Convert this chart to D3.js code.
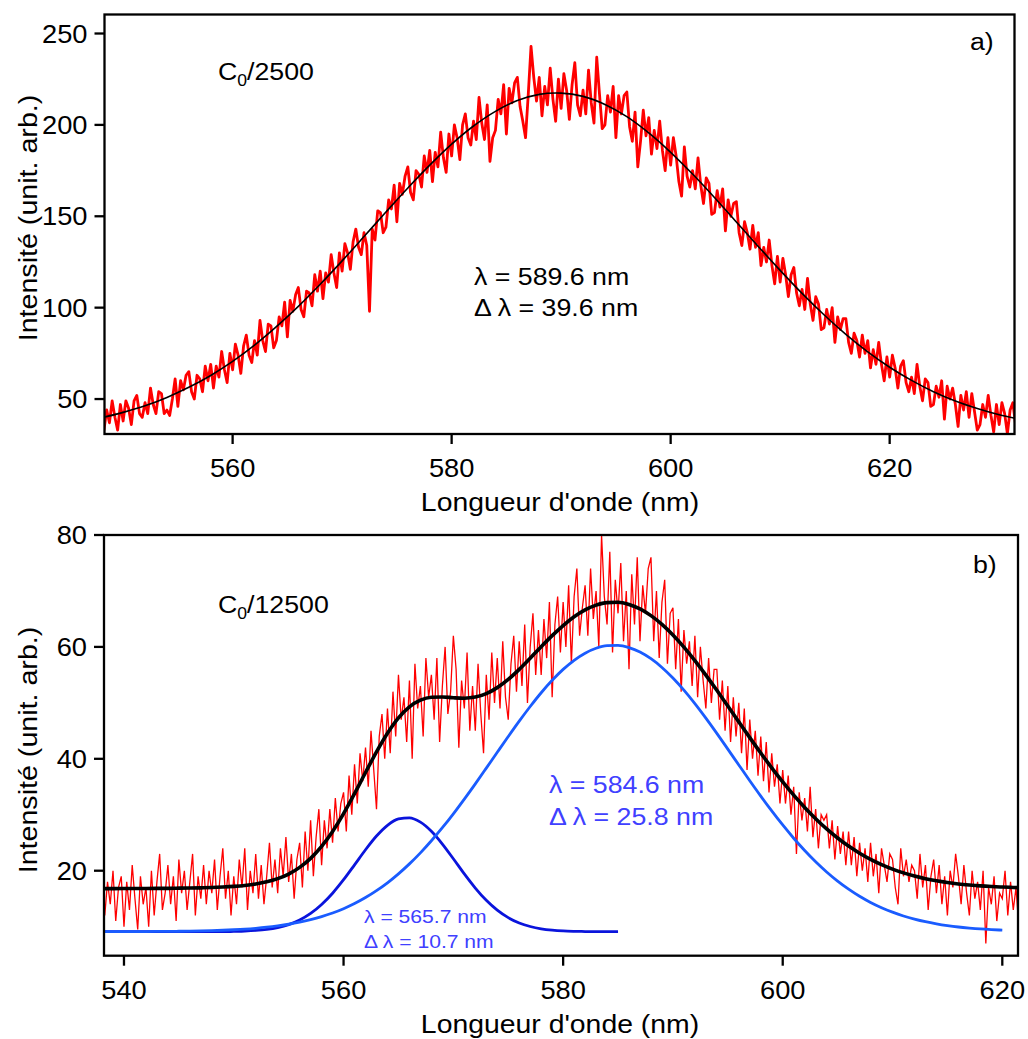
<!DOCTYPE html>
<html><head><meta charset="utf-8">
<script src="https://cdn.jsdelivr.net/npm/d3@7"></script>
<style>body{margin:0;background:#fff} svg{display:block}</style>
</head><body><svg id="c" width="1028" height="1039"></svg>
<script>
// ---------- Panel a) data ----------
const topStart = 548, topStep = 0.25;
const topData = [
45,33,44,37,49,40,33,47, 38,49,45,36,49,52,42,40, 48,42,56,47,42,54,53,42, 44,41,50,61,46,60,55,63,
65,54,50,63,61,54,68,60, 69,56,68,62,76,66,59,75, 66,80,74,64,79,85,74,70, 82,74,93,82,76,91,90,78,
82,95,90,103,84,104,98,107, 111,99,95,109,108,101,118,109, 120,105,119,114,129,119,111,130,
120,135,130,121,136,143,133,129, 141,134,98,143,137,153,152,141, 144,159,154,167,147,168,162,172,
177,163,159,175,173,166,183,174, 186,169,185,177,196,182,174,195, 183,200,193,181,200,206,193,189,
202,192,215,201,192,211,180,193, 197,214,206,222,195,220,212,223, 226,210,202,193,217,243,226,213,
226,205,221,211,231,214,202,225, 209,228,219,203,222,234,211,205, 219,206,230,212,201,237,217,198,
200,216,207,221,193,216,206,216, 218,199,191,207,177,191,208,194, 204,184,197,187,202,186,175,193,
178,193,183,169,161,188,172,166, 175,165,182,167,157,171,168,151, 152,164,155,165,142,159,150,157,
158,141,134,147,141,132,145,133, 141,123,133,125,137,123,113,128, 114,127,118,106,118,122,108,101,
110,99,116,102,93,106,102,88, 89,99,91,100,81,95,88,94, 94,81,75,86,82,73,85,75,
82,67,77,69,81,69,60,73, 62,74,67,56,68,71,59,54, 62,53,69,57,49,61,59,46,
47,57,51,60,39,57,50,56, 47,35,52,44,54,40,53,43, 33,36,47,40,52,41,32,47, 36,48,42,31,44,48,36,32];
const topFitX = [548,550,552,554,556,558,560,562,564,566,568,570,572,574,576,578,580,582,584,586,588,590,
592,594,596,598,600,602,604,606,608,610,612,614,616,618,620,622,624,626,628,630,632];
const topFitY = [39.7,42.7,46.3,50.9,56.4,62.9,70.6,79.5,89.6,100.7,112.8,125.6,138.9,152.3,165.5,178.0,189.5,199.4,
207.4,213.3,216.7,217.4,215.6,211.2,204.5,195.6,185.0,173.1,160.3,146.9,133.5,120.4,107.8,96.1,85.4,75.8,67.4,
60.2,54.0,48.9,44.8,41.4,38.8];
const topXTicks = [560,580,600,620];
const topYTicks = [50,100,150,200,250];

// ---------- Panel b) data ----------
const botStart = 538, botStep = 0.25;
const botData = [
21,12,18,14,20,11,17,19, 10,18,13,21,15,9.5,19,14, 17,10,20,12,18,23,13,16, 21,14,19,11,22,16,20,13,
18,23,12,19,15,21,14,20, 16,22,13,19,24,15,20,12, 19,14,22,17,24,13,20,16, 23,15,21,14,19,25,17,22,
16,24,19,26,18,23,15,22, 25,17,27,20,29,19,26,31, 21,29,24,31,25,33,27,32, 34,27,37,30,39,32,41,36,
42,35,45,38,31,44,48,40, 49,41,52,44,55,47,51,43, 54,40,57,49,53,44,58,51, 55,47,58,43,53,60,48,52,
62,56,42,54,49,59,45,53, 45,57,48,41,55,47,59,50, 58,49,61,51,47,57,62,52, 61,53,64,50,60,66,55,63,
55,65,58,68,51,64,69,59, 68,60,71,57,69,74,62,67, 71,62,74,65,70,60,80,69, 64,77,59,72,66,75,61,70,
56,73,64,76,61,71,66,74, 76,61,70,58,68,72,57,66, 67,56,65,52,63,57,61,53, 62,51,60,54,49,58,50,56,
56,47,54,45,53,43,51,44, 50,41,49,38,47,40,45,37, 44,36,43,34,41,35,39,32, 38,32,37,30,35,23,34,29,
33,27,35,26,31,24,30,29, 30,24,29,22,28,23,27,21, 27,21,26,19,25,20,24,18, 25,19,23,16,24,21,18,23,
22,17,14,24,19,22,18,21, 20,15,23,17,21,13,19,22, 16,21,14,19,12,20,17,23, 19,14,21,16,12,20,15,18,
13,20,7,17,14,19,11,16, 15,20,12,18,13,17,10,15];
const botFitStart = 538;
const botFitTotal = [16.80,16.80,16.81,16.82,16.83,16.84,16.85,16.88,16.90,16.94,16.99,17.08,17.20,17.37,17.63,
18.01,18.58,19.40,20.59,22.21,24.35,27.02,30.20,33.78,37.55,41.24,44.56,47.30,49.28,50.47,51.00,51.05,50.91,
50.83,51.03,51.65,52.72,54.19,55.99,57.98,60.03,62.01,63.82,65.38,66.61,67.47,67.92,67.97,67.58,66.79,65.59,
64.03,62.14,59.97,57.56,54.96,52.24,49.43,46.60,43.79,41.04,38.39,35.87,33.50,31.31,29.30,27.48,25.85,24.40,
23.13,22.03,21.09,20.29,19.61,19.05,18.58,18.20,17.89,17.64,17.45,17.29,17.17,17.08,17.01,16.95];
const botFitPeak2 = [9.11,9.11,9.11,9.12,9.13,9.14,9.15,9.18,9.20,9.24,9.29,9.36,9.45,9.56,9.71,9.90,10.14,10.43,
10.80,11.25,11.79,12.44,13.21,14.13,15.20,16.44,17.84,19.44,21.22,23.19,25.35,27.68,30.17,32.80,35.53,38.34,
41.17,43.98,46.73,49.35,51.81,54.03,55.98,57.61,58.88,59.76,60.22,60.27,59.88,59.09,57.89,56.33,54.44,52.27,
49.86,47.26,44.54,41.73,38.90,36.09,33.34,30.69,28.17,25.80,23.61,21.60,19.78,18.15,16.70,15.43,14.33,13.39,
12.59,11.91,11.35,10.88,10.50,10.19,9.94,9.75,9.59,9.47,9.38];
const botFitPeak1 = [9.10,9.10,9.10,9.10,9.10,9.10,9.10,9.10,9.10,9.10,9.10,9.10,9.15,9.21,9.32,9.51,9.84,10.37,
11.19,12.36,13.96,15.98,18.39,21.05,23.75,26.20,28.12,29.26,29.46,28.68,27.05,24.77,22.14,19.43,16.90,14.71,
12.95,11.61,10.66,10.03,9.62,9.38,9.24,9.17,9.13,9.11,9.10,9.10];
const botXTicks = [540,560,580,600,620];
const botYTicks = [20,40,60,80];

// ---------- drawing ----------
const svg = d3.select('#c');
const FONT = 'Arial, "Liberation Sans", Helvetica, sans-serif';

function txt(parent, x, y, str, size, anchor, color, rot, sx) {
  const t = parent.append('text')
    .attr('transform', `translate(${x},${y})` + (rot ? ` rotate(${rot})` : '') + ` scale(${sx || 1.1},1)`)
    .attr('font-family', FONT).attr('font-size', size)
    .attr('text-anchor', anchor || 'start').attr('fill', color || '#000');
  if (str != null) t.text(str);
  return t;
}

function panel(cfg) {
  const x = d3.scaleLinear().domain(cfg.xd).range([cfg.L, cfg.R]);
  const y = d3.scaleLinear().domain(cfg.yd).range([cfg.B, cfg.T]);
  const g = svg.append('g');
  const cid = 'clip' + cfg.id;
  svg.append('defs').append('clipPath').attr('id', cid)
    .append('rect').attr('x', cfg.L).attr('y', cfg.T).attr('width', cfg.R - cfg.L).attr('height', cfg.B - cfg.T);
  const plot = g.append('g').attr('clip-path', `url(#${cid})`);
  cfg.xt.forEach(v => {
    g.append('line').attr('x1', x(v)).attr('x2', x(v)).attr('y1', cfg.B).attr('y2', cfg.B + 10)
      .attr('stroke', '#000').attr('stroke-width', 2.3);
    txt(g, x(v), cfg.B + 43, String(v), 25.5, 'middle', '#000', 0, 1.07);
  });
  cfg.yt.forEach(v => {
    g.append('line').attr('x1', cfg.L - 10).attr('x2', cfg.L).attr('y1', y(v)).attr('y2', y(v))
      .attr('stroke', '#000').attr('stroke-width', 2.3);
    txt(g, cfg.L - 17, y(v) + 9.1, String(v), 25.5, 'end', '#000', 0, 1.07);
  });
  txt(g, 560, cfg.B + 77, "Longueur d'onde (nm)", 25.8, 'middle');
  txt(g, 37, cfg.ycenter, 'Intensité (unit. arb.)', 26.5, 'middle', '#000', -90, 1.08);
  return {x, y, g, plot};
}

// Panel a
const A = panel({id: 'a', L: 104.5, R: 1014.5, T: 14.5, B: 434, xd: [548.3, 631.4], yd: [30.87, 260.4],
  xt: topXTicks, yt: topYTicks, ycenter: 218});
const topPts = topData.map((v, i) => [topStart + i * topStep, v]);
A.plot.append('path').datum(topPts)
  .attr('d', d3.line().x(d => A.x(d[0])).y(d => A.y(d[1])))
  .attr('fill', 'none').attr('stroke', '#ff0000').attr('stroke-width', 2.8).attr('stroke-linejoin', 'round');
A.plot.append('path').datum(topFitX.map((v, i) => [v, topFitY[i]]))
  .attr('d', d3.line().curve(d3.curveCatmullRom).x(d => A.x(d[0])).y(d => A.y(d[1])))
  .attr('fill', 'none').attr('stroke', '#000').attr('stroke-width', 1.6);
A.g.append('rect').attr('x', 104.5).attr('y', 14.5).attr('width', 910).attr('height', 419.5)
  .attr('fill', 'none').attr('stroke', '#000').attr('stroke-width', 2.3);
{
  const t = txt(A.g, 218, 80, null, 24.3, 'start');
  t.append('tspan').text('C');
  t.append('tspan').attr('font-size', 16).attr('dy', 6).text('0');
  t.append('tspan').attr('dy', -6).text('/2500');
}
txt(A.g, 970, 50, 'a)', 24.3, 'start');
txt(A.g, 474, 285, 'λ = 589.6 nm', 24.3, 'start');
txt(A.g, 474, 316, 'Δ λ = 39.6 nm', 24.3, 'start');

// Panel b
const Bp = panel({id: 'b', L: 104, R: 1018, T: 535, B: 955.7, xd: [538.18, 621.43], yd: [4.81, 80],
  xt: botXTicks, yt: botYTicks, ycenter: 750});
const botPts = botData.map((v, i) => [botStart + i * botStep, v]);
const lineB = d3.line().curve(d3.curveMonotoneX).x(d => Bp.x(d[0])).y(d => Bp.y(d[1]));
Bp.plot.append('path').datum(botPts)
  .attr('d', d3.line().x(d => Bp.x(d[0])).y(d => Bp.y(d[1])))
  .attr('fill', 'none').attr('stroke', '#ff0000').attr('stroke-width', 1.3);
Bp.plot.append('path').datum(botFitPeak1.map((v, i) => [botFitStart + i, v]))
  .attr('d', lineB).attr('fill', 'none').attr('stroke', '#0a14dc').attr('stroke-width', 2.8);
Bp.plot.append('path').datum(botFitPeak2.map((v, i) => [botFitStart + i, v]))
  .attr('d', lineB).attr('fill', 'none').attr('stroke', '#1a5cff').attr('stroke-width', 2.8);
Bp.plot.append('path').datum(botFitTotal.map((v, i) => [botFitStart + i, v]))
  .attr('d', lineB).attr('fill', 'none').attr('stroke', '#000').attr('stroke-width', 3.6);
Bp.g.append('rect').attr('x', 104).attr('y', 535).attr('width', 914).attr('height', 420.7)
  .attr('fill', 'none').attr('stroke', '#000').attr('stroke-width', 2.3);
{
  const t = txt(Bp.g, 218, 612.5, null, 24.3, 'start');
  t.append('tspan').text('C');
  t.append('tspan').attr('font-size', 16).attr('dy', 6).text('0');
  t.append('tspan').attr('dy', -6).text('/12500');
}
txt(Bp.g, 973, 573, 'b)', 24.3, 'start');
txt(Bp.g, 549, 793, 'λ = 584.6 nm', 24.3, 'start', '#4040ff');
txt(Bp.g, 549, 825, 'Δ λ = 25.8 nm', 24.3, 'start', '#4040ff');
txt(Bp.g, 364, 922.7, 'λ = 565.7 nm', 19.2, 'start', '#4040ff');
txt(Bp.g, 364, 948.3, 'Δ λ = 10.7 nm', 19.2, 'start', '#4040ff');
</script></body></html>
